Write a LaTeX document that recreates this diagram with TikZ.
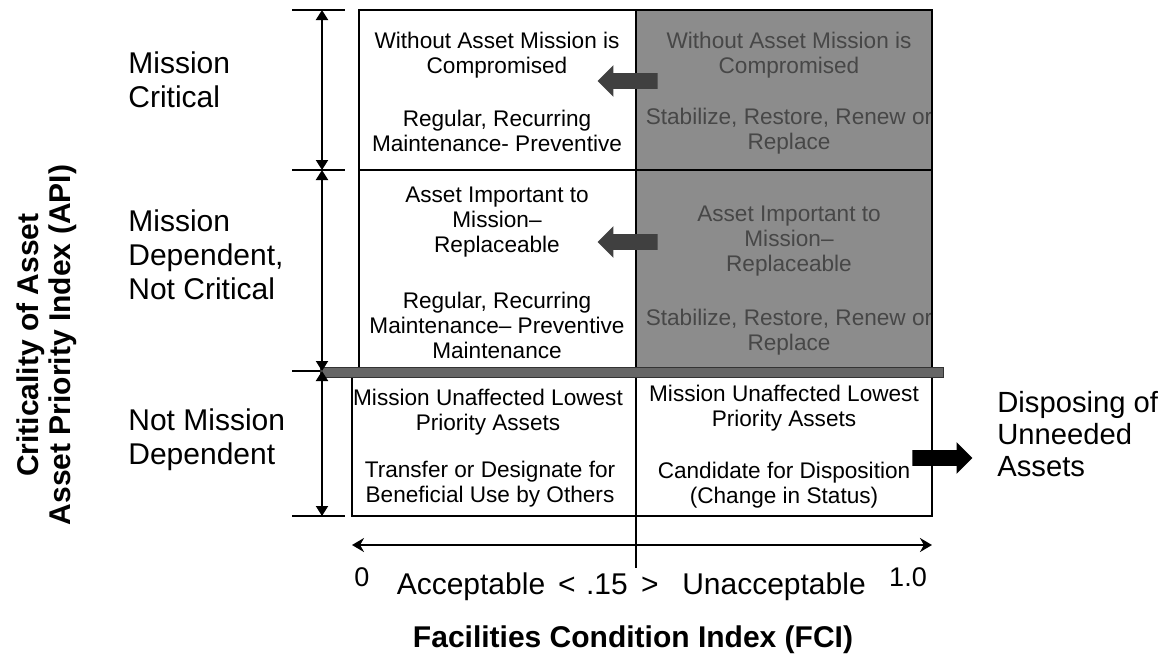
\documentclass[tikz,border=0pt]{standalone}
\usepackage{fontspec}
\setmainfont{Liberation Sans}
\usetikzlibrary{arrows.meta,shapes.arrows}

\begin{document}
\begin{tikzpicture}[
    x=0.5pt, y=-0.5pt,
    celltext/.style={align=center, inner sep=0pt, font=\fontsize{11.3}{12.5}\selectfont},
    darktext/.style={celltext, text=black!72},
    rowlabel/.style={align=left, anchor=west, inner sep=0pt, font=\fontsize{15}{17}\selectfont},
    axislabel/.style={anchor=base, inner sep=0pt, font=\fontsize{15}{17}\selectfont},
    titlelabel/.style={align=center, inner sep=0pt, font=\bfseries\fontsize{15}{16}\selectfont},
    gridline/.style={line width=1pt},
    tick/.style={line width=0.6pt},
    dimarrow/.style={{Triangle[length=5pt,width=6pt]}-{Triangle[length=5pt,width=6pt]}, line width=1pt},
    axisarrow/.style={{Stealth[length=6pt,width=7pt]}-{Stealth[length=6pt,width=7pt]}, line width=1pt},
    blockarrow/.style={single arrow, draw=none, inner sep=3.75pt, single arrow head extend=4pt, minimum height=30pt}
]
\useasboundingbox (0,0) rectangle (1169,661);

% Shaded (unacceptable) part of upper rows
\fill[black!45] (636,10) rectangle (932,371);

% Cell texts
\node[celltext] (c11a) at (497,55) {Without Asset Mission is\\Compromised};
\node[celltext] (c11b) at (497,131) {Regular, Recurring\\Maintenance- Preventive};
\node[celltext] (c21a) at (497,222) {Asset Important to\\Mission--\\Replaceable};
\node[celltext] (c21b) at (497,325) {Regular, Recurring\\Maintenance-- Preventive\\Maintenance};
\begin{scope}
\clip (636,10) rectangle (932,371);
\node[darktext] (c12a) at (789,55) {Without Asset Mission is\\Compromised};
\node[darktext] (c12b) at (789,131) {Stabilize, Restore, Renew or\\Replace};
\node[darktext] (c22a) at (789,241) {Asset Important to\\Mission--\\Replaceable};
\node[darktext] (c22b) at (789,332) {Stabilize, Restore, Renew or\\Replace};
\end{scope}
\node[celltext] (c31a) at (488,412) {Mission Unaffected Lowest\\Priority Assets};
\node[celltext] (c31b) at (490,484) {Transfer or Designate for\\Beneficial Use by Others};
\node[celltext] (c32a) at (784,408) {Mission Unaffected Lowest\\Priority Assets};
\node[celltext] (c32b) at (784,485) {Candidate for Disposition\\(Change in Status)};

% Grid
\draw[gridline] (359,371) -- (359,10) -- (932,10) -- (932,516) -- (352,516) -- (352,371);
\draw[gridline] (359,170) -- (932,170);
\draw[gridline] (636,10) -- (636,516);
\fill[black!60, draw=black!80] (320,367) rectangle (943,377);

% Block arrows
\node[blockarrow, fill=black!75, shape border rotate=180, anchor=tip] (move1) at (597,81) {};
\node[blockarrow, fill=black!75, shape border rotate=180, anchor=tip] (move2) at (597,242) {};
\node[blockarrow, fill=black, anchor=tip] (dispose) at (973,458) {};

% Row labels
\node[rowlabel] (critical) at (128,80) {Mission\\Critical};
\node[rowlabel] (dependent) at (128,255) {Mission\\Dependent,\\Not Critical};
\node[rowlabel] (notdependent) at (128,440) {Not Mission\\Dependent};
\node[rowlabel, font=\fontsize{14.6}{16}\selectfont] (unneeded) at (997,434) {Disposing of\\Unneeded\\Assets};
\node[titlelabel, rotate=90] (api) at (47,345) {Criticality of Asset\\Asset Priority Index (API)};

% Row extent arrows
\coordinate (d0) at (322,10);
\coordinate (d1) at (322,170);
\coordinate (d2) at (322,371);
\coordinate (d3) at (322,516);
\draw[tick] (292,10) -- (345,10);
\draw[tick] (292,170) -- (345,170);
\draw[tick] (292,371) -- (320,371);
\draw[tick] (292,516) -- (345,516);
\draw[dimarrow] (d0) -- (d1);
\draw[dimarrow] (d1) -- (d2);
\draw[dimarrow] (d2) -- (d3);

% FCI axis
\coordinate (a0) at (352,545);
\coordinate (a1) at (932,545);
\draw[axisarrow] (a0) -- (a1);
\draw[tick] (636,516) -- (636,568);
\node[axislabel, font=\fontsize{13.5}{15}\selectfont] (zero) at (362,586) {0};
\node[axislabel] (acc) at (471,594) {Acceptable};
\node[axislabel] (lt) at (567,594) {<};
\node[axislabel] (val) at (607,594) {.15};
\node[axislabel] (gt) at (650,594) {>};
\node[axislabel] (unacc) at (774,594) {Unacceptable};
\node[axislabel, font=\fontsize{13.5}{15}\selectfont] (one) at (908,586) {1.0};
\node[titlelabel] (fci) at (633,640) {Facilities Condition Index (FCI)};

\end{tikzpicture}
\end{document}
